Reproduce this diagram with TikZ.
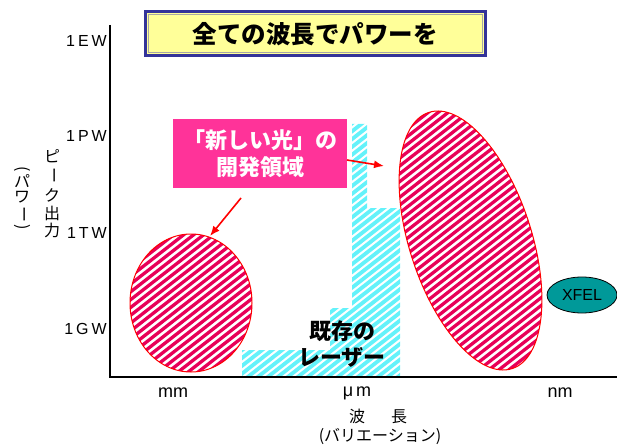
\documentclass[tikz,border=0pt]{standalone}
\usepackage{fontspec}
\setmainfont{Liberation Sans}
\newfontfamily\jp{Noto Sans CJK JP}
\usetikzlibrary{arrows.meta,shapes.geometric}
\definecolor{pinkfill}{RGB}{255,51,153}
\definecolor{stripepink}{RGB}{232,0,88}
\definecolor{stripecyan}{RGB}{100,242,250}
\definecolor{titleblue}{RGB}{51,51,153}
\definecolor{titleyellow}{RGB}{255,255,153}
\definecolor{xfelteal}{RGB}{0,153,153}
\tikzset{
 axisline/.style={line width=1.5pt, black},
 pinkstripe/.style={stripepink, line width=3.3pt},
 cyanstripe/.style={stripecyan, line width=3.8pt},
 regionedge/.style={draw=red, line width=1pt},
 redarrow/.style={red, line width=1.6pt, -{Latex[length=10pt,width=8pt]}},
 ylab/.style={anchor=east, font=\fontsize{16}{16}\selectfont, inner sep=0pt},
 xlab/.style={font=\fontsize{18}{18}\selectfont, inner sep=0pt},
 vch/.style={font=\jp\fontsize{16}{16}\selectfont, inner sep=0pt},
 jplab/.style={font=\jp\fontsize{16}{16}\selectfont, inner sep=0pt},
}
\begin{document}
\begin{tikzpicture}[x=1pt,y=-1pt]
\useasboundingbox (0,0) rectangle (617,446);
% title
\draw[titleblue, line width=3pt, fill=titleyellow] (145,12) rectangle (485,56);
\draw[gray!70, line width=1pt] (148,15) rectangle (482,53);
\node[font=\jp\bfseries\fontsize{24.5}{24.5}\selectfont, inner sep=0pt] (title) at (315,34) {全ての波長でパワーを};
% existing lasers region
\begin{scope}
\clip (242,377) -- (242,350) -- (330,350) -- (330,308) -- (352,308) -- (352,124) -- (367,124) -- (367,208) -- (400,208) -- (400,377) -- cycle;
\foreach \k in {0,...,120} \draw[cyanstripe] (\k*10,0) -- ++(-600,469);
\end{scope}
% new light regions
\begin{scope}
\clip (191,303) ellipse [x radius=61, y radius=69];
\foreach \k in {0,...,120} \draw[pinkstripe] (\k*10+4,0) -- ++(-600,469);
\end{scope}
\draw[regionedge] (191,303) ellipse [x radius=61, y radius=69];
\begin{scope}
\clip[shift={(470.5,240.5)}, rotate=-72] (0,0) ellipse [x radius=134.7, y radius=61];
\foreach \k in {0,...,120} \draw[pinkstripe] (\k*10+2,0) -- ++(-600,469);
\end{scope}
\draw[regionedge, shift={(470.5,240.5)}, rotate=-72] (0,0) ellipse [x radius=134.7, y radius=61];
% XFEL
\node[ellipse, fill=xfelteal, draw=black, line width=0.8pt, minimum width=70, minimum height=36, inner sep=0pt, font=\fontsize{16}{16}\selectfont] (xfel) at (582,295) {XFEL};
% pink label
\node[fill=pinkfill, minimum width=174, minimum height=69, inner sep=0pt, text=white, align=center, font=\jp\bfseries\fontsize{22}{27}\selectfont] (pinkbox) at (260,153.5) {「新しい光」の\\開発領域};
\coordinate (a1s) at (347,160);
\coordinate (a1e) at (384,166);
\coordinate (a2s) at (241,198);
\coordinate (a2e) at (210,236);
\draw[redarrow] (a1s) -- (a1e);
\draw[redarrow] (a2s) -- (a2e);
% existing lasers label
\node[align=center, font=\jp\bfseries\fontsize{22}{26}\selectfont, inner sep=0pt] (laser) at (342,344) {既存の\\レーザー};
% axes
\coordinate (ytop) at (110,25);
\coordinate (origin) at (110,377);
\coordinate (xend) at (617,377);
\draw[axisline] (ytop) -- (origin) -- (xend);
% y labels
\node[ylab] (yew) at (107,41) {1\hspace{3pt}E\hspace{3pt}W};
\node[ylab] (ypw) at (107,136) {1\hspace{3pt}P\hspace{3pt}W};
\node[ylab] (ytw) at (107,233) {1\hspace{3pt}T\hspace{3pt}W};
\node[ylab] (ygw) at (107,329) {1\hspace{3pt}G\hspace{3pt}W};
% vertical axis title
\node[vch] (v1) at (52,156) {ピ};
\node[vch] (v2) at (52,175) {\rotatebox[origin=c]{-90}{ー}};
\node[vch] (v3) at (52,195) {ク};
\node[vch] (v4) at (52,213) {出};
\node[vch] (v5) at (52,230) {力};
\node[vch] (w1) at (22,170) {\rotatebox[origin=c]{-90}{(}};
\node[vch] (w2) at (22,181) {パ};
\node[vch] (w3) at (22,197) {ワ};
\node[vch] (w4) at (22,214) {\rotatebox[origin=c]{-90}{ー}};
\node[vch] (w5) at (22,228) {\rotatebox[origin=c]{-90}{)}};
% x labels
\node[xlab] (xmm) at (173,393) {mm};
\node[xlab] (xum) at (357,393) {μ\hspace{3pt}m};
\node[xlab] (xnm) at (560,393) {nm};
\node[jplab] (xt1) at (378,416) {波\hspace{26pt}長};
\node[jplab] (xt2) at (380,437) {(バリエーション)};
\end{tikzpicture}
\end{document}
